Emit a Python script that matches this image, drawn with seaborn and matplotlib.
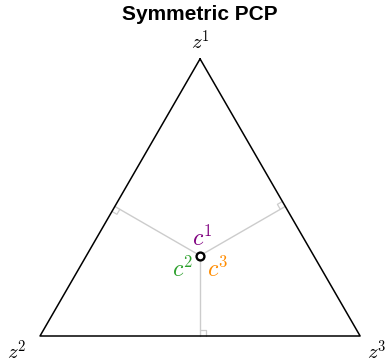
import numpy as np
import pandas as pd
import matplotlib
matplotlib.use("Agg")
import matplotlib.pyplot as plt
import seaborn as sns

sns.set_style("white")
plt.rcParams["mathtext.fontset"] = "cm"
plt.rcParams["text.color"] = "black"

# Simplex vertices (equilateral triangle) and their labels
vertex_labels = ["$z^1$", "$z^2$", "$z^3$"]
vertex_x = [0.5, 0.0, 1.0]
vertex_y = [np.sqrt(3) / 2, 0.0, 0.0]

# Barycentric coordinates of the point c
c_weights = [0.29, 0.355, 0.355]
c_labels = ["$c^1$", "$c^2$", "$c^3$"]
c_colors = ["purple", "tab:green", "darkorange"]

V = np.column_stack([vertex_x, vertex_y])
P = np.asarray(c_weights) @ V

fig = plt.figure(figsize=(3.87, 3.64), dpi=100)
ax = fig.add_axes([0, 0, 1, 1])
ax.set_xlim(-0.125, 1.084)
ax.set_ylim(-0.0875, 1.05)
ax.axis("off")

# Triangle outline
tri = pd.DataFrame({"x": vertex_x + [vertex_x[0]], "y": vertex_y + [vertex_y[0]]})
sns.lineplot(data=tri, x="x", y="y", sort=False, color="black", lw=1.1, ax=ax,
             estimator=None)

# Perpendiculars from c to each side (side i is opposite vertex i)
sq = 0.018
for i in range(3):
    a, b = V[(i + 1) % 3], V[(i + 2) % 3]
    d = (b - a) / np.linalg.norm(b - a)
    foot = a + np.dot(P - a, d) * d
    n = (P - foot) / np.linalg.norm(P - foot)
    ax.plot([P[0], foot[0]], [P[1], foot[1]], color="#cccccc", lw=1.0, zorder=1)
    c1 = foot + n * sq
    c2 = foot + n * sq + d * sq
    c3 = foot + d * sq
    ax.plot([c1[0], c2[0], c3[0]], [c1[1], c2[1], c3[1]], color="#cccccc",
            lw=0.9, zorder=1)

# The point c
sns.scatterplot(x=[P[0]], y=[P[1]], s=32, color="white", edgecolor="black",
                linewidth=1.7, zorder=5, ax=ax)

# Component labels around c
offsets = [(0.006, 0.055), (-0.055, -0.042), (0.055, -0.042)]
for lab, col, (dx, dy) in zip(c_labels, c_colors, offsets):
    ax.text(P[0] + dx, P[1] + dy, lab, color=col, fontsize=17,
            ha="center", va="center")

# Vertex labels
vpos = [(0.5, 0.921), (-0.072, -0.05), (1.053, -0.05)]
for lab, (x, y) in zip(vertex_labels, vpos):
    ax.text(x, y, lab, fontsize=15, ha="center", va="center")

ax.text(0.5, 1.006, "Symmetric PCP", fontsize=15, fontweight="bold",
        family=["Liberation Sans", "DejaVu Sans"], ha="center", va="center")

fig.savefig("out.png", dpi=100)
